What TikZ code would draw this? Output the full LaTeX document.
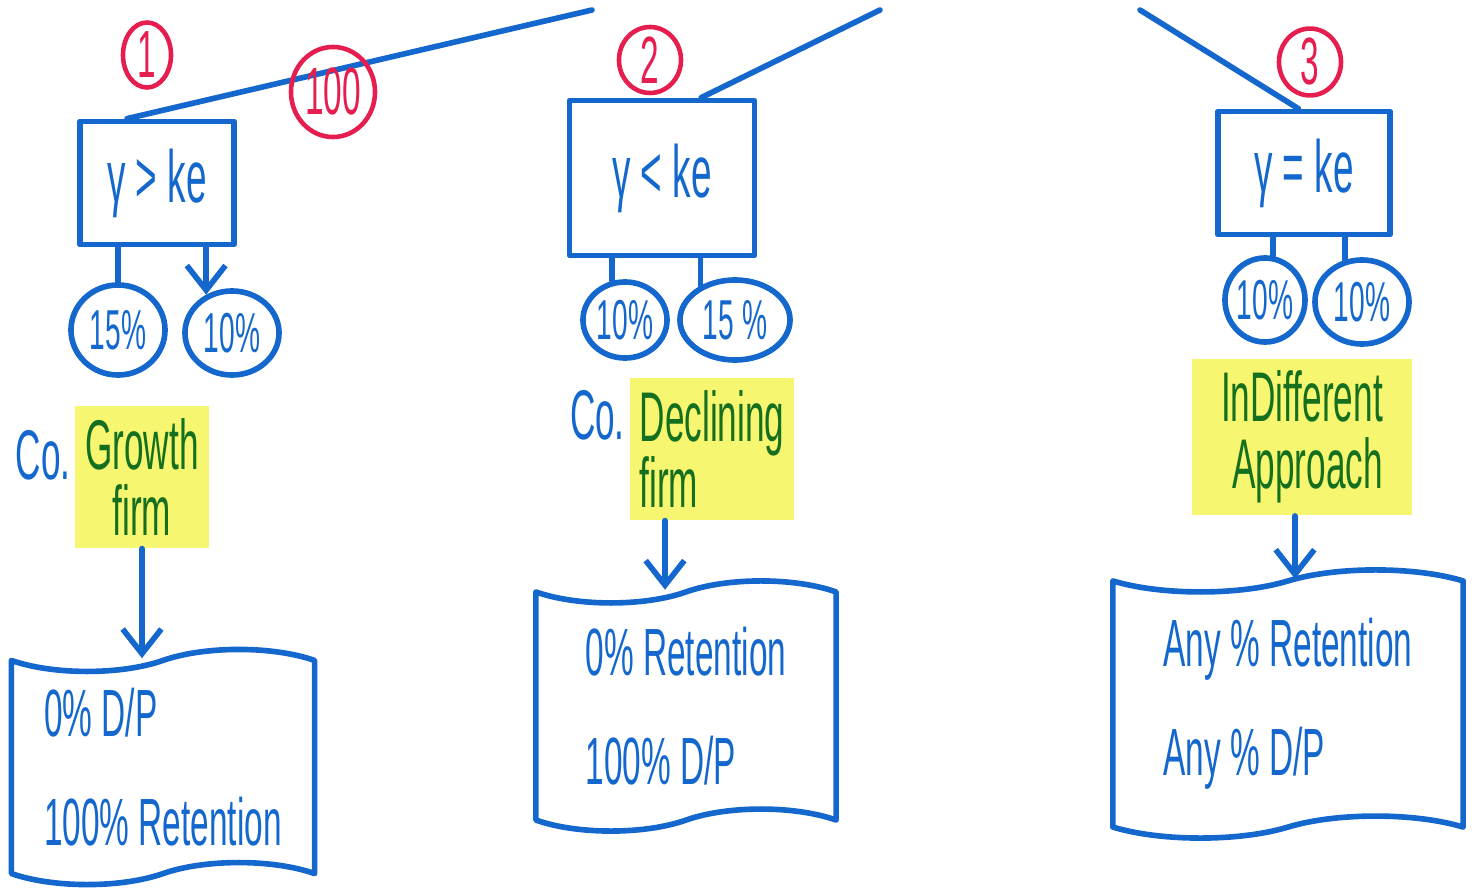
\documentclass[tikz,border=0pt]{standalone}
\usepackage{fontspec}
\newfontfamily\hand{Liberation Sans}[FakeStretch=0.5]
\usetikzlibrary{shapes.geometric,shapes.symbols,arrows.meta}
\definecolor{inkblue}{RGB}{20,104,205}
\definecolor{inkred}{RGB}{230,30,80}
\definecolor{inkgreen}{RGB}{20,112,30}
\definecolor{marker}{RGB}{246,246,112}
\begin{document}
\begin{tikzpicture}[x=0.01cm, y=-0.01cm, line join=round, line cap=round,
  >={Straight Barb[length=7pt,width=11pt]},
  ink/.style={draw=inkblue, line width=1.6pt},
  cond/.style={ink, rectangle, text=inkblue, font=\hand\fontsize{21}{23}\selectfont},
  rate/.style={ink, ellipse, inner sep=0pt, text=inkblue, font=\hand\fontsize{16}{18}\selectfont},
  num/.style={draw=inkred, line width=1.3pt, ellipse, inner sep=0pt, text=inkred, font=\hand\fontsize{19}{21}\selectfont},
  firm/.style={fill=marker, text=inkgreen, inner xsep=0.1cm, inner ysep=0.12cm, font=\hand\fontsize{20}{19}\selectfont},
  co/.style={text=inkblue, anchor=east, inner xsep=1pt, font=\hand\fontsize{20}{22}\selectfont},
  result/.style={ink, tape, tape bend height=0.22cm, align=left, text=inkblue, font=\hand\fontsize{19}{31}\selectfont}]
  \useasboundingbox (0,0) rectangle (1478,891);
  % free ends of the three branches
  \coordinate (t1) at (592,10);
  \coordinate (t2) at (880,10);
  \coordinate (t3) at (1140,10);

  % case 1
  \node[cond, minimum width=1.54cm, minimum height=1.23cm] (c1) at (157,183) {γ > ke};
  \node[num, minimum width=0.48cm, minimum height=0.62cm] (n1) at (147,55) {1};
  \draw[ink] (c1.115) -- (t1);
  \node[num, minimum width=0.84cm, minimum height=0.9cm] (n100) at (333,92) {100};
  \node[rate, minimum width=0.94cm, minimum height=0.9cm] (r1) at (118,330) {15\%};
  \node[rate, minimum width=0.94cm, minimum height=0.84cm] (r2) at (232,333) {10\%};
  \draw[ink] (r1.north |- c1.south) -- (r1.north);
  \draw[ink,->] (r2.124 |- c1.south) -- (r2.124);
  \node[firm, align=center] (f1) at (142,477) {Growth\\firm};
  \node[co] (k1) at (f1.west |- 0,455) {Co.};
  \node[result, minimum width=3.03cm, minimum height=2.35cm] (d1) at (163,767)
    {0\% D/P\\100\% Retention};
  \draw[ink,->] (f1.south) -- (f1.south |- d1.north);

  % case 2
  \node[cond, minimum width=1.85cm, minimum height=1.55cm] (c2) at (662,178) {γ < ke};
  \node[num, minimum width=0.62cm, minimum height=0.62cm] (n2) at (650,60) {2};
  \draw[ink] (c2.64) -- (t2);
  \node[rate, minimum width=0.84cm, minimum height=0.76cm] (r3) at (625,320) {10\%};
  \node[rate, minimum width=1.1cm, minimum height=0.8cm] (r4) at (735,320) {15 \%};
  \draw[ink] (r3.108 |- c2.south) -- (r3.108);
  \draw[ink] (r4.135 |- c2.south) -- (r4.135);
  \node[firm, align=left] (f2) at (712,449) {Declining\\firm};
  \node[co] (k2) at (f2.west |- 0,415) {Co.};
  \node[result, minimum width=3.0cm, minimum height=2.5cm] (d2) at (686,706)
    {0\% Retention\\100\% D/P};
  \draw[ink,->] (f2.south -| 665,0) -- (d2.north -| 665,0);

  % case 3
  \node[cond, minimum width=1.72cm, minimum height=1.23cm] (c3) at (1304,173) {γ = ke};
  \node[num, minimum width=0.62cm, minimum height=0.62cm] (n3) at (1310,62) {3};
  \draw[ink] (c3.95) -- (t3);
  \node[rate, minimum width=0.8cm, minimum height=0.84cm] (r5) at (1265,300) {10\%};
  \node[rate, minimum width=0.94cm, minimum height=0.84cm] (r6) at (1362,302) {10\%};
  \draw[ink] (r5.80 |- c3.south) -- (r5.80);
  \draw[ink] (r6.112 |- c3.south) -- (r6.112);
  \node[firm, align=right, minimum width=2.2cm, minimum height=1.37cm] (f3) at (1302,437) {InDifferent\\Approach};
  \node[result, minimum width=3.5cm, minimum height=2.68cm] (d3) at (1288,704)
    {Any \% Retention\\Any \% D/P};
  \draw[ink,->] (f3.south -| 1295,0) -- (d3.north -| 1295,0);
\end{tikzpicture}
\end{document}
